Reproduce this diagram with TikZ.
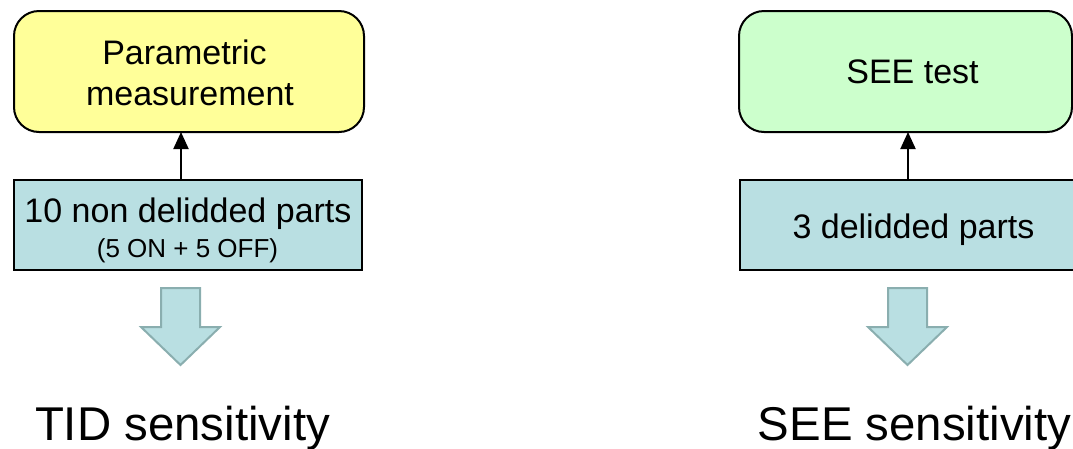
\documentclass[tikz,border=0pt]{standalone}
\usepackage{fontspec}
\setmainfont{Liberation Sans}
\usetikzlibrary{arrows.meta}
\definecolor{yel}{HTML}{FFFF99}
\definecolor{grn}{HTML}{CCFFCC}
\definecolor{blu}{HTML}{B9DFE2}
\definecolor{bluedge}{HTML}{8AAEAF}
\tikzset{
  roundbox/.style={draw=black, line width=2pt, rounded corners=25pt, inner sep=0pt},
  partbox/.style={draw=black, fill=blu, line width=2pt, inner sep=0pt},
  txt/.style={inner sep=0pt, anchor=base, font=\fontsize{34}{41}\selectfont},
  smalltxt/.style={inner sep=0pt, anchor=base, font=\fontsize{26}{30}\selectfont},
  bigtxt/.style={inner sep=0pt, anchor=base, font=\fontsize{47.4}{56}\selectfont},
  blockarrow/.style={fill=blu, draw=bluedge, line width=2pt, line join=miter},
  conn/.style={line width=2pt, -{Triangle[width=15pt,length=17pt]}}
}
\begin{document}
\begin{tikzpicture}[x=1pt,y=-1pt]
\useasboundingbox (0,0) rectangle (1073,448);
% left column
\node[roundbox, fill=yel, minimum width=350pt, minimum height=121pt] (paramL) at (189,71.5) {};
\node[txt] (paramT1) at (184.5,64) {Parametric};
\node[txt] (paramT2) at (190,105) {measurement};
\node[partbox, minimum width=348pt, minimum height=90pt] (partsL) at (188,225) {};
\node[txt] (partsT1) at (188,222) {10 non delidded parts};
\node[smalltxt] (partsT2) at (187.5,257) {(5 ON + 5 OFF)};
\coordinate (aLs) at (181,180);
\coordinate (aLe) at (181,132);
\draw[conn] (aLs) -- (aLe);
\draw[blockarrow] (161,288) -- (200,288) -- (200,327) -- (220,327) -- (180.5,365) -- (141,327) -- (161,327) -- cycle;
\node[bigtxt] (tidT) at (182.5,440) {TID sensitivity};
% right column
\node[roundbox, fill=grn, minimum width=333pt, minimum height=121pt] (seeR) at (905.5,71.5) {};
\node[txt] (seeT) at (912.5,83) {SEE test};
\node[partbox, minimum width=346pt, minimum height=90pt] (partsR) at (913,225) {};
\node[txt] (partsRT) at (913.5,238) {3 delidded parts};
\coordinate (aRs) at (908,180);
\coordinate (aRe) at (908,132);
\draw[conn] (aRs) -- (aRe);
\draw[blockarrow] (888,288) -- (927,288) -- (927,327) -- (947,327) -- (907.5,365) -- (868,327) -- (888,327) -- cycle;
\node[bigtxt] (seeST) at (914.5,440) {SEE sensitivity};
\end{tikzpicture}
\end{document}
